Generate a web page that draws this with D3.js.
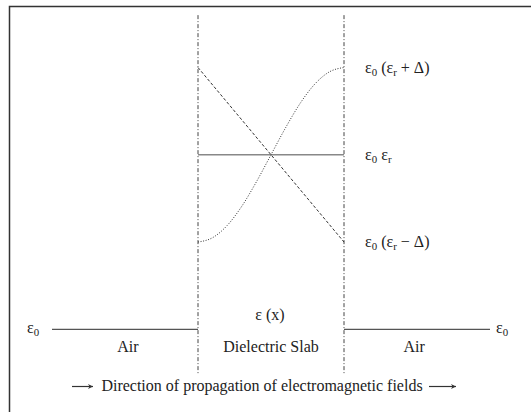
<!DOCTYPE html>
<meta charset="utf-8">
<head>
<script src="https://d3js.org/d3.v7.min.js"></script>
<style>
  body { margin: 0; background: #fff; }
  text { font-family: "Liberation Serif", "Times New Roman", serif; fill: #222; }
</style>
</head>
<body>
<div id="chart"></div>
<script>
// position along propagation axis: -1..0 air, 0..1 slab, 1..2 air
// permittivity in relative units: 0 = eps0, 2 = eps0*epsr, delta = 1
var regions = ["Air", "Dielectric Slab", "Air"];
var regionCenters = [-0.48, 0.5, 1.48];
var boundaries = [0, 1];

var constX = [0, 1];
var constY = [2, 2];

var linearX = [0, 1];
var linearY = [3, 1];

var gradedX = [0, 0.1, 0.2, 0.3, 0.4, 0.5, 0.6, 0.7, 0.8, 0.9, 1];
var gradedY = [1.0, 1.05, 1.19, 1.41, 1.69, 2.0, 2.31, 2.59, 2.81, 2.95, 3.0];

var airLeftX = [-1, 0], airRightX = [1, 2], airY = 0;

var rightLabels = [
  {y: 3, parts: ["ε", "0", " (ε", "r", " + Δ)"]},
  {y: 2, parts: ["ε", "0", " ε", "r", ""]},
  {y: 1, parts: ["ε", "0", " (ε", "r", " − Δ)"]}
];

var width = 531, height = 412, fs = 16;

var svg = d3.select("#chart").append("svg")
  .attr("width", width)
  .attr("height", height);

var x = d3.scaleLinear().domain([-1, 2]).range([52, 490]);
var y = d3.scaleLinear().domain([0, 3]).range([329.3, 67.5]);

// frame (top + left)
svg.append("path")
  .attr("d", "M9.5,412 L9.5,6.5 L531,6.5")
  .attr("fill", "none")
  .attr("stroke", "#333")
  .attr("stroke-width", 1.5);

// slab boundaries
svg.selectAll(".bound")
  .data(boundaries)
  .enter().append("line")
  .attr("x1", function(d) { return x(d); })
  .attr("x2", function(d) { return x(d); })
  .attr("y1", y(3.6))
  .attr("y2", y(-0.52))
  .attr("stroke", "#444")
  .attr("stroke-width", 1)
  .attr("stroke-dasharray", "4,2,1,2");

var line = d3.line()
  .x(function(d) { return x(d[0]); })
  .y(function(d) { return y(d[1]); });

// constant permittivity
svg.append("path")
  .attr("d", line(d3.zip(constX, constY)))
  .attr("stroke", "#888")
  .attr("stroke-width", 1.5)
  .attr("fill", "none");

// linear profile
svg.append("path")
  .attr("d", line(d3.zip(linearX, linearY)))
  .attr("stroke", "#333")
  .attr("stroke-width", 1)
  .attr("stroke-dasharray", "3,2")
  .attr("fill", "none");

// graded profile
svg.append("path")
  .attr("d", line.curve(d3.curveMonotoneX)(d3.zip(gradedX, gradedY)))
  .attr("stroke", "#333")
  .attr("stroke-width", 1)
  .attr("stroke-dasharray", "1,1.6")
  .attr("fill", "none");
line.curve(d3.curveLinear);

// air levels
[airLeftX, airRightX].forEach(function(xs) {
  svg.append("line")
    .attr("x1", x(xs[0])).attr("x2", x(xs[1]))
    .attr("y1", y(airY)).attr("y2", y(airY))
    .attr("stroke", "#555")
    .attr("stroke-width", 1.2);
});

function epsLabel(g, parts, size) {
  var t = g.append("text").style("font-size", size + "px");
  parts.forEach(function(p, i) {
    if (!p) return;
    var ts = t.append("tspan").text(p);
    if (i % 2 == 1) ts.style("font-size", (size * 0.68) + "px").attr("dy", 3);
    else if (i > 0) ts.attr("dy", -3);
  });
  return t;
}

// right-side labels
rightLabels.forEach(function(d) {
  var g = svg.append("g")
    .attr("transform", "translate(" + (x(1) + 21) + "," + (y(d.y) + 5) + ")");
  epsLabel(g, d.parts, fs);
});

// eps0 at both ends
var g0 = svg.append("g").attr("transform", "translate(27," + (y(airY) + 4) + ")");
epsLabel(g0, ["ε", "0"], fs);
var g1 = svg.append("g").attr("transform", "translate(496," + (y(airY) + 4) + ")");
epsLabel(g1, ["ε", "0"], fs);

svg.append("text")
  .attr("x", x(0.5) - 1)
  .attr("y", y(airY) - 9)
  .attr("text-anchor", "middle")
  .style("font-size", fs + "px")
  .text("ε (x)");

svg.selectAll(".region")
  .data(regions)
  .enter().append("text")
  .attr("x", function(d, i) { return x(regionCenters[i]); })
  .attr("y", y(airY) + 23)
  .attr("text-anchor", "middle")
  .style("font-size", fs + "px")
  .text(function(d) { return d; });

// direction of propagation
svg.append("defs").append("marker")
  .attr("id", "arr")
  .attr("viewBox", "0 0 10 10")
  .attr("refX", 10).attr("refY", 5)
  .attr("markerWidth", 9).attr("markerHeight", 5)
  .attr("orient", "auto")
  .attr("markerUnits", "userSpaceOnUse")
  .append("path")
  .attr("d", "M0,0 L10,5 L0,10 L3,5 Z")
  .attr("fill", "#333");

[[72, 93], [429, 456]].forEach(function(a) {
  svg.append("line")
    .attr("x1", a[0]).attr("x2", a[1])
    .attr("y1", 386.5).attr("y2", 386.5)
    .attr("stroke", "#333")
    .attr("stroke-width", 1.2)
    .attr("marker-end", "url(#arr)");
});

svg.append("text")
  .attr("x", 262)
  .attr("y", 391)
  .attr("text-anchor", "middle")
  .style("font-size", fs + "px")
  .text("Direction of propagation of electromagnetic fields");
</script>
</body>
</html>
